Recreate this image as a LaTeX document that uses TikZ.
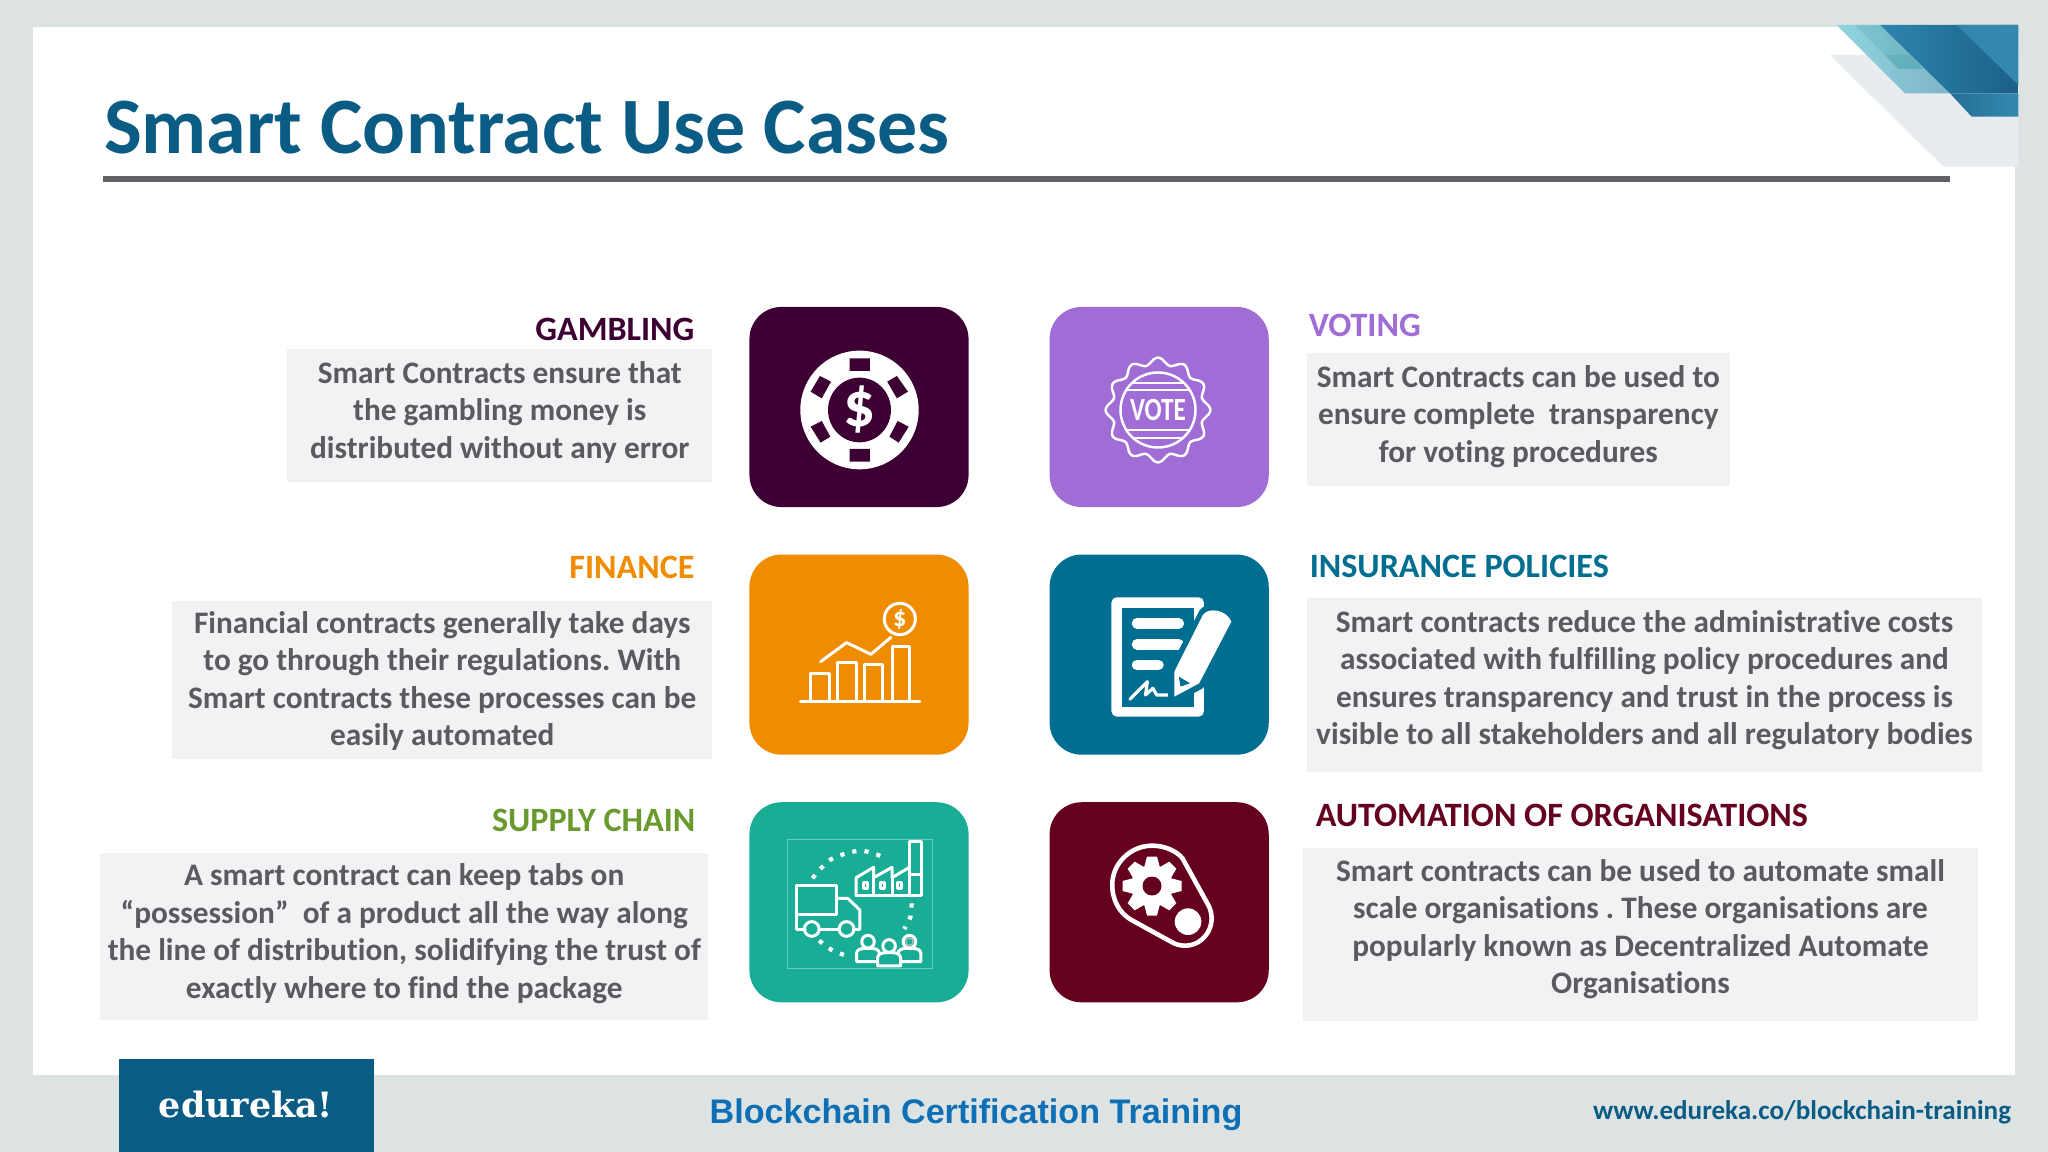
\documentclass[tikz,border=0pt]{standalone}
\usepackage{fontspec}
\setmainfont[Ligatures=NoCommon]{Carlito}
\newfontfamily\footfont{Liberation Sans}
\newfontfamily\logofont{DejaVu Serif}
\usetikzlibrary{positioning,shapes,calc}
\definecolor{slidebg}{HTML}{DDE3E3}
\definecolor{titleblue}{HTML}{0B5C85}
\definecolor{rulegray}{HTML}{626266}
\definecolor{boxgray}{HTML}{F2F2F4}
\definecolor{textgray}{HTML}{5A5A5F}
\definecolor{gamblecol}{HTML}{3D0033}
\definecolor{votecol}{HTML}{A06CD5}
\definecolor{financecol}{HTML}{F08C00}
\definecolor{insurecol}{HTML}{006E90}
\definecolor{supplycol}{HTML}{1AAD96}
\definecolor{supplyhead}{HTML}{6A9A2E}
\definecolor{autocol}{HTML}{65001E}
\definecolor{footblue}{HTML}{0F6FB5}
\definecolor{cornergray}{HTML}{E8ECF0}
\definecolor{cornerlighta}{HTML}{90D4E0}
\definecolor{cornerlightb}{HTML}{7FB3C8}
\definecolor{cornerbluea}{HTML}{2E86AE}
\definecolor{cornerblueb}{HTML}{1B5F85}
\definecolor{cornerbluec}{HTML}{3488AE}
\frenchspacing

\begin{document}
\begin{tikzpicture}[x=0.01cm, y=-0.01cm,
    every node/.style={outer sep=0pt},
    node distance=0.475cm and 0.81cm,
    tile/.style={rectangle, minimum width=2.19cm, minimum height=2cm, rounded corners=0.32cm, inner sep=0pt},
    descbox/.style={rectangle, fill=boxgray, align=center, inner sep=0pt, text=textgray, font=\fontsize{8.9}{10.66}\selectfont\bfseries},
    headtext/.style={inner sep=0pt, minimum height=0.3cm, font=\fontsize{9.7}{11}\selectfont\bfseries},
    iconscale/.style={xscale=0.37, yscale=0.3333},
    iconline/.style={draw=white, line width=0.85pt, line cap=round, line join=round},
    dotline/.style={white, line width=1.2pt, dash pattern=on 1.2pt off 2.3pt}
]
    % Slide background
    \useasboundingbox (0,0) rectangle (2048,1152);
    \fill[slidebg] (0,0) rectangle (2048,1152);
    \fill[white] (33,27) rectangle (2015,1075);

    % Corner decoration
    \begin{scope}[shift={(1780,0)}, scale=0.3333]
        \fill[cornergray] (150,165) -- (490,500) -- (715,500) -- (715,165) -- cycle;
        \shade[left color=cornerlighta, right color=cornerlightb] (170,75) -- (375,280) -- (510,280) -- (300,75) -- cycle;
        \fill[teal, opacity=0.12] (225,75) -- (355,207) -- (430,207) -- (300,75) -- cycle;
        \fill[teal, opacity=0.15] (315,165) -- (355,207) -- (430,207) -- (390,165) -- cycle;
        \shade[left color=cornerbluea, right color=cornerblueb] (300,75) -- (510,280) -- (715,280) -- (715,75) -- cycle;
        \fill[cornerbluec] (530,75) -- (715,255) -- (715,75) -- cycle;
        \shade[left color=cornerblueb!60!cornerbluec, right color=cornerbluec] (510,280) -- (575,350) -- (715,350) -- (715,280) -- cycle;
    \end{scope}

    % Title
    \node[anchor=base west, inner sep=0pt, text=titleblue, font=\fontsize{22.75}{26}\selectfont\bfseries] (title) at (104,154) {Smart Contract Use Cases};
    \fill[rulegray] (103,176) rectangle (1950,182);

    % Tiles
    \node[tile, fill=gamblecol] (tgamble) at (859,407) {};
    \node[tile, fill=votecol, right=of tgamble] (tvote) {};
    \node[tile, fill=financecol, below=of tgamble] (tfinance) {};
    \node[tile, fill=insurecol, right=of tfinance] (tinsure) {};
    \node[tile, fill=supplycol, below=of tfinance] (tsupply) {};
    \node[tile, fill=autocol, right=of tsupply] (tauto) {};

    % Description boxes
    \node[descbox, text depth=3.2pt, minimum width=4.25cm, minimum height=1.33cm, left=0.37cm of tgamble, yshift=-0.085cm] (bgamble) {Smart Contracts ensure that\\the gambling money is\\distributed without any error};
    \node[descbox, text depth=3.2pt, minimum width=4.23cm, minimum height=1.33cm, right=0.38cm of tvote, yshift=-0.125cm] (bvote) {Smart Contracts can be used to\\ensure complete~ transparency\\for voting procedures};
    \node[descbox, text depth=1pt, minimum width=5.4cm, minimum height=1.58cm, left=0.37cm of tfinance, yshift=-0.255cm] (bfinance) {Financial contracts generally take days\\to go through their regulations. With\\Smart contracts these processes can be\\easily automated};
    \node[descbox, text depth=4.3pt, minimum width=6.75cm, minimum height=1.74cm, right=0.38cm of tinsure, yshift=-0.305cm] (binsure) {Smart contracts reduce the administrative costs\\associated with fulfilling policy procedures and\\ensures transparency and trust in the process is\\visible to all stakeholders and all regulatory bodies};
    \node[descbox, text depth=3.2pt, minimum width=6.08cm, minimum height=1.67cm, left=0.41cm of tsupply, yshift=-0.345cm] (bsupply) {A smart contract can keep tabs on\\“possession”~ of a product all the way along\\the line of distribution, solidifying the trust of\\exactly where to find the package};
    \node[descbox, text depth=4.7pt, minimum width=6.75cm, minimum height=1.73cm, right=0.34cm of tauto, yshift=-0.325cm] (bauto) {Smart contracts can be used to automate small\\scale organisations . These organisations are\\popularly known as Decentralized Automate\\Organisations};

    % Headings
    \node[headtext, text=gamblecol, above=0.048cm of bgamble.north east, anchor=south east, xshift=-0.18cm] (hgamble) {GAMBLING};
    \node[headtext, text=votecol, above=0.128cm of bvote.north west, anchor=south west, xshift=0.02cm] (hvote) {VOTING};
    \node[headtext, text=financecol, above=0.183cm of bfinance.north east, anchor=south east, xshift=-0.18cm] (hfinance) {FINANCE};
    \node[headtext, text=insurecol, above=0.163cm of binsure.north west, anchor=south west, xshift=0.03cm] (hinsure) {INSURANCE POLICIES};
    \node[headtext, text=supplyhead, above=0.178cm of bsupply.north east, anchor=south east, xshift=-0.13cm] (hsupply) {SUPPLY CHAIN};
    \node[headtext, text=autocol, above=0.178cm of bauto.north west, anchor=south west, xshift=0.13cm] (hauto) {AUTOMATION OF ORGANISATIONS};

    % Gambling chip
    \begin{scope}[shift={(720,290)}, iconscale]
        \fill[white] (377,360) ellipse[x radius=160, y radius=178];
        \fill[gamblecol] (377,360) ellipse[x radius=85, y radius=97];
        \fill[gamblecol] (350,205) rectangle (405,243) (350,477) rectangle (405,515);
        \fill[gamblecol] (270,258) -- (300,275) -- (275,325) -- (245,305) -- cycle;
        \fill[gamblecol] (478,258) -- (508,305) -- (478,325) -- (452,275) -- cycle;
        \fill[gamblecol] (245,410) -- (275,393) -- (298,440) -- (272,458) -- cycle;
        \fill[gamblecol] (480,393) -- (510,410) -- (483,458) -- (458,440) -- cycle;
        \node[text=white, inner sep=0pt, font=\fontsize{18}{18}\selectfont\bfseries] (chipdollar) at (377,358) {\$};
    \end{scope}

    % Vote badge
    \begin{scope}[shift={(1158,410)}]
        \draw[iconline, line width=0.7pt] plot[smooth cycle, samples=72, domain=0:355] ({\x}:{49+3.5*cos(12*\x)});
        \draw[iconline, line width=0.7pt] (0,0) circle[radius=37.5];
        \foreach \yy in {-27,-20,20,28}
            \draw[iconline, line width=0.7pt] ({-sqrt(37.5*37.5-\yy*\yy)},\yy) -- ({sqrt(37.5*37.5-\yy*\yy)},\yy);
        \node[text=white, inner sep=0pt, font=\fontsize{9.2}{10}\selectfont\bfseries] (votetext) at (0,0) {\scalebox{0.78}[1]{VOTE}};
    \end{scope}

    % Finance chart
    \begin{scope}[shift={(720,290)}, iconscale]
        \draw[iconline] (217,1235) -- (540,1235);
        \draw[iconline] (245,1235) |- (297,1150) -- (297,1235);
        \draw[iconline] (318,1235) |- (368,1117) -- (368,1235);
        \draw[iconline] (390,1235) |- (440,1125) -- (440,1235);
        \draw[iconline] (465,1235) |- (512,1070) -- (512,1235);
        \draw[iconline] (272,1115) -- (342,1058) -- (408,1093) -- (462,1042);
        \draw[iconline] (486,987) ellipse[x radius=42, y radius=47];
        \node[text=white, inner sep=0pt, font=\fontsize{7.5}{8}\selectfont\bfseries] (coindollar) at (486,987) {\$};
    \end{scope}

    % Insurance document
    \begin{scope}[shift={(720,290)}, iconscale]
        \fill[white, rounded corners=1.5pt] (1058,922) rectangle (1308,1280);
        \fill[insurecol] (1087,953) rectangle (1280,1250);
        \draw[white, line width=3pt, line cap=round] (1127,1000) -- (1240,1000) (1127,1063) -- (1240,1063) (1127,1125) -- (1185,1125);
        \draw[white, line width=0.9pt, line cap=round, line join=round] (1108,1228) -- (1155,1175) -- (1150,1215) -- (1170,1195) -- (1180,1215) -- (1215,1215);
        \draw[insurecol, fill=insurecol, line width=3.5pt, line join=round] (1228,1145) -- (1312,968) -- (1382,995) -- (1295,1180) -- (1228,1220) -- cycle;
        \fill[white] (1228,1145) -- (1305,975) .. controls (1320,950) and (1370,960) .. (1382,995) -- (1295,1180) -- (1228,1220) -- cycle;
        \fill[insurecol] (1240,1160) -- (1270,1180) -- (1245,1190) -- cycle;
    \end{scope}

    % Supply chain
    \begin{scope}[shift={(720,780)}, iconscale]
        \draw[supplycol!65!white, line width=0.3pt] (182,178) rectangle (574,566);
        \draw[iconline] (208,318) rectangle (315,405);
        \draw[iconline] (315,355) -- (345,355) -- (378,390) -- (378,448) -- (360,448);
        \draw[iconline] (208,405) -- (208,448) -- (230,448) (268,448) -- (322,448);
        \draw[iconline] (248,447) ellipse[x radius=20, y radius=22];
        \draw[iconline] (342,447) ellipse[x radius=20, y radius=22];
        \draw[iconline] (368,347) -- (545,347) -- (545,185) -- (512,185) -- (512,347);
        \draw[iconline] (512,285) -- (545,285);
        \draw[iconline] (368,347) -- (368,293) -- (415,262) -- (415,293) -- (465,262) -- (465,293) -- (512,262);
        \draw[iconline] (415,293) -- (415,347) (465,293) -- (465,347);
        \draw[iconline] (388,308) rectangle (398,325) (435,308) rectangle (445,325) (480,308) rectangle (490,325);
        \draw[dotline] plot[smooth] coordinates {(250,295) (300,238) (380,212) (450,235)};
        \draw[dotline] plot[smooth] coordinates {(518,370) (515,410) (498,447)};
        \draw[dotline] plot[smooth] coordinates {(268,482) (305,512) (350,530)};
        \foreach \px/\py in {512/485, 400/485, 457/498} {
            \draw[iconline, fill=supplycol] ({\px-31},{\py+60}) -- ({\px-31},{\py+35}) .. controls ({\px-31},{\py+25}) and ({\px-20},{\py+20}) .. ({\px-8},{\py+20}) -- ({\px+8},{\py+20}) .. controls ({\px+20},{\py+20}) and ({\px+31},{\py+25}) .. ({\px+31},{\py+35}) -- ({\px+31},{\py+60}) -- cycle;
            \draw[iconline, fill=supplycol] (\px,\py) ellipse[x radius=17, y radius=19];
        }
        \draw[white!75!black, line width=0.3pt] (512,485) ellipse[x radius=10, y radius=11];
    \end{scope}

    % Automation gear
    \begin{scope}[shift={(720,780)}, iconscale]
        \draw[white, line width=1.3pt] (1168,197) .. controls (1205,197) and (1235,215) .. (1250,235) -- (1322,380) .. controls (1345,440) and (1305,497) .. (1258,497) .. controls (1245,497) and (1235,495) .. (1222,487) -- (1112,420) .. controls (1080,400) and (1060,360) .. (1060,315) .. controls (1060,250) and (1110,197) .. (1168,197) -- cycle;
        \fill[white] (1265,425) ellipse[x radius=36, y radius=40];
    \end{scope}
    \begin{scope}[shift={(1152,886)}]
        \fill[white] (0,0) circle[radius=21];
        \foreach \ang in {0,45,...,315}
            \fill[white, rotate=\ang] (-5,-29.5) -- (5,-29.5) -- (8,-18) -- (-8,-18) -- cycle;
        \fill[autocol] (0,0) circle[radius=9.5];
    \end{scope}

    % Footer
    \fill[titleblue] (119,1059) rectangle (374,1152);
    \node[text=white, inner sep=0pt, font=\logofont\fontsize{9.9}{12}\selectfont\bfseries] (logo) at (246,1105) {edureka!};
    \node[text=footblue, inner sep=0pt, font=\footfont\fontsize{9.7}{12}\selectfont\bfseries] (course) at (976,1115) {Blockchain Certification Training};
    \node[anchor=east, text=titleblue, inner sep=0pt, font=\fontsize{7.7}{10}\selectfont\bfseries] (website) at (2011,1112) {www.edureka.co/blockchain-training};
\end{tikzpicture}
\end{document}
